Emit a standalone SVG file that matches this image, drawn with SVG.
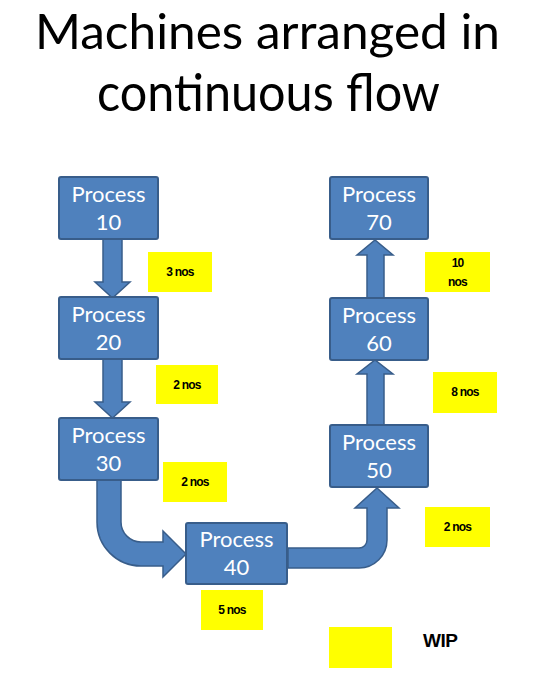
<svg xmlns="http://www.w3.org/2000/svg" width="545" height="673" viewBox="0 0 545 673">
<style>
.title{font-family:Lato,"Open Sans","Liberation Sans",sans-serif;fill:#000;text-anchor:middle}
.box{fill:#4F81BD;stroke:#385D8A;stroke-width:2}
.pt{font-family:Lato,"Open Sans","Liberation Sans",sans-serif;font-size:22px;fill:#fff;text-anchor:middle}
.arr{fill:#4F81BD;stroke:#385D8A;stroke-width:1.5;stroke-linejoin:miter}
.wip{fill:#FFFF00}
.wt{font-family:"Liberation Sans",Arial,sans-serif;font-weight:bold;font-size:12px;fill:#000;text-anchor:middle;letter-spacing:-0.8px}
</style>
<rect width="545" height="673" fill="#fff"/>
<g id="title">
<text class="title" x="267.5" y="49" font-size="48" textLength="465" lengthAdjust="spacingAndGlyphs">Machines arranged in</text>
<text class="title" x="268.5" y="111" font-size="52" textLength="343" lengthAdjust="spacingAndGlyphs">continuous flow</text>
</g>

<g id="connectors">
<path class="arr" d="M103,239 L122,239 L122,282 L130,282 L112.5,298 L95,282 L103,282 Z"/>
<path class="arr" d="M103,359 L122,359 L122,402 L130,402 L112.5,418 L95,402 L103,402 Z"/>
<path class="arr" d="M97,480 L97,522 A44,44 0 0 0 141,566 L163,566 L163,577 L186,554 L163,531 L163,542 L141,542 A20,20 0 0 1 121,522 L121,480 Z"/>
<path class="arr" d="M288,548 L359,548 A8,8 0 0 0 367,540 L367,508 L355,508 L377,488 L399,508 L387,508 L387,540 A28,28 0 0 1 359,568 L288,568 Z"/>
<path class="arr" d="M367,425 L367,374 L357,374 L375,360 L393,374 L384,374 L384,425 Z"/>
<path class="arr" d="M367,298 L367,255 L357,255 L375,240 L393,255 L384,255 L384,298 Z"/>
</g>

<g id="p10"><rect class="box" x="59" y="177" width="99" height="62" rx="2"/><text class="pt" x="108.5" y="202">Process</text><text class="pt" x="108.5" y="230">10</text></g>
<g id="p20"><rect class="box" x="59" y="297" width="99" height="62" rx="2"/><text class="pt" x="108.5" y="322">Process</text><text class="pt" x="108.5" y="350">20</text></g>
<g id="p30"><rect class="box" x="59" y="418" width="99" height="62" rx="2"/><text class="pt" x="108.5" y="443">Process</text><text class="pt" x="108.5" y="471">30</text></g>
<g id="p40"><rect class="box" x="186" y="523" width="101" height="61" rx="2"/><text class="pt" x="236.5" y="547">Process</text><text class="pt" x="236.5" y="575">40</text></g>
<g id="p50"><rect class="box" x="330" y="425" width="98" height="62" rx="2"/><text class="pt" x="379" y="450">Process</text><text class="pt" x="379" y="478">50</text></g>
<g id="p60"><rect class="box" x="330" y="298" width="98" height="62" rx="2"/><text class="pt" x="379" y="323">Process</text><text class="pt" x="379" y="351">60</text></g>
<g id="p70"><rect class="box" x="330" y="177" width="98" height="62" rx="2"/><text class="pt" x="379" y="202">Process</text><text class="pt" x="379" y="230">70</text></g>

<g id="w1"><rect class="wip" x="148" y="252" width="64" height="40"/><text class="wt" x="180" y="276">3 nos</text></g>
<g id="w2"><rect class="wip" x="156" y="365" width="62" height="39"/><text class="wt" x="187" y="389">2 nos</text></g>
<g id="w3"><rect class="wip" x="163" y="462" width="64" height="40"/><text class="wt" x="195" y="486">2 nos</text></g>
<g id="w4"><rect class="wip" x="201" y="590" width="62" height="40"/><text class="wt" x="232" y="614">5 nos</text></g>
<g id="w5"><rect class="wip" x="425" y="507" width="65" height="40"/><text class="wt" x="457.5" y="531">2 nos</text></g>
<g id="w6"><rect class="wip" x="433" y="372" width="64" height="41"/><text class="wt" x="465" y="396">8 nos</text></g>
<g id="w7"><rect class="wip" x="425" y="252" width="65" height="40"/><text class="wt" x="457.5" y="267">10</text><text class="wt" x="457.5" y="286">nos</text></g>
<g id="legend"><rect class="wip" x="329" y="627" width="63" height="41"/><text x="423" y="647" font-family="'Liberation Sans',Arial,sans-serif" font-weight="bold" font-size="19" fill="#000" letter-spacing="-0.5">WIP</text></g>
</svg>
